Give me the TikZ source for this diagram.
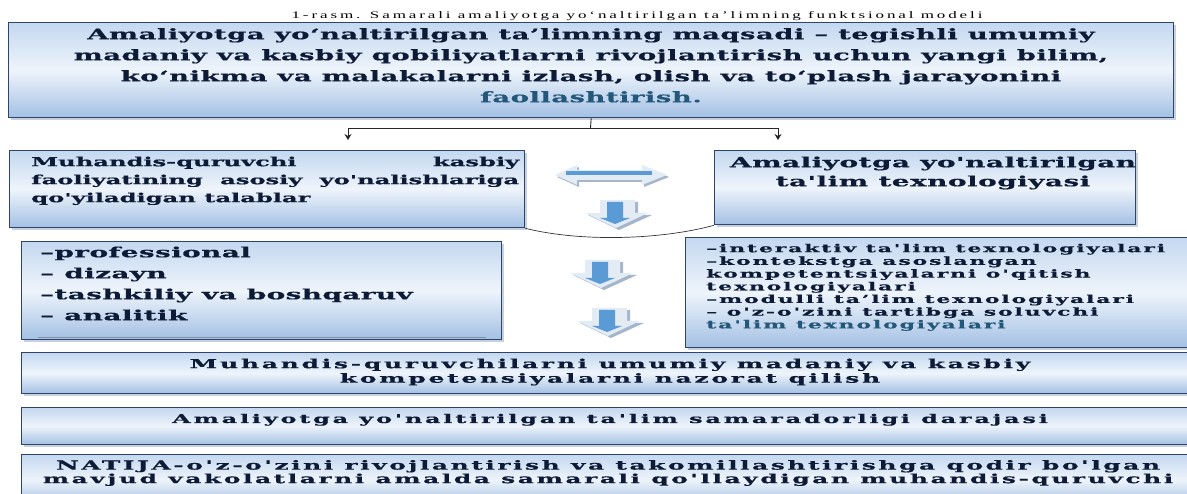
\documentclass[tikz,border=0pt]{standalone}
\usepackage{fontspec}
\setmainfont{DejaVu Serif}
\newfontfamily\capfont{Liberation Serif}[FakeStretch=1.7,LetterSpace=29,Ligatures=TeXOff]
\newcommand\wfont[4]{\fontspec{DejaVu Serif}[FakeStretch=#1,LetterSpace=#2,FakeBold=0.6,Ligatures=TeXOff]\bfseries\fontsize{#3}{#4}\selectfont}
\usetikzlibrary{arrows.meta,shadows}
\definecolor{panelline}{HTML}{2E4468}
\definecolor{paneltop}{HTML}{C4D8F0}
\definecolor{panelmid}{HTML}{EEF4FB}
\definecolor{panelbot}{HTML}{A3C0E4}
\definecolor{panelshade}{HTML}{8FA3BF}
\definecolor{ink}{HTML}{0D1B36}
\definecolor{inkteal}{HTML}{24587A}
\definecolor{arrowfill}{HTML}{5B9BD5}
\definecolor{arrowrim}{HTML}{E3EBF5}
\definecolor{arrowshade}{HTML}{A5B6CB}
\tikzset{
panel/.style={draw=panelline, line width=1.3pt, top color=paneltop, bottom color=panelbot, middle color=panelmid, drop shadow={shadow xshift=2.5pt, shadow yshift=-2.5pt, fill=panelshade}, anchor=north west, inner sep=0pt},
paneltext/.style={inner sep=0pt, text=ink},
tip/.style={-{Stealth[length=6pt,width=7pt]}, line width=0.9pt, draw=black!85}
}
\begin{document}
\begin{tikzpicture}[x=1pt,y=-1pt]
\useasboundingbox (0,0) rectangle (1187,494);
\fill[white] (0,0) rectangle (1187,494);
\node[text=black, inner sep=0pt, font=\capfont\fontsize{10}{12}\selectfont, anchor=base] (caption) at (637,19) {1-rasm. Samarali amaliyotga yo‘naltirilgan ta’limning funktsional modeli};
\node[panel, minimum width=1165pt, minimum height=95pt] (goal) at (8,22) {};
\node[paneltext, align=center, anchor=north, font=\wfont{1.9}{3}{14.5}{21}] (goaltext) at (591,28) {Amaliyotga yo‘naltirilgan ta’limning maqsadi – tegishli umumiy\\madaniy va kasbiy qobiliyatlarni rivojlantirish uchun yangi bilim,\\ko‘nikma va malakalarni izlash, olish va to‘plash jarayonini\\\textcolor{inkteal}{faollashtirish.}};
\coordinate (split) at (590.5,128);
\coordinate (leftend) at (348,140);
\coordinate (rightend) at (778,140);
\draw[line width=0.9pt, black!85] (goal.south) -- (split);
\draw[tip] (split) -| (leftend);
\draw[tip] (split) -| (rightend);
\node[panel, minimum width=515pt, minimum height=77pt] (demand) at (9,150) {};
\node[paneltext, align=justify, text width=488pt, anchor=north west, font=\wfont{1.95}{-1}{12.5}{18}] (demandtext) at (31,156.5) {Muhandis-quruvchi kasbiy\linebreak faoliyatining asosiy yo'nalishlariga\linebreak qo'yiladigan talablar};
\node[panel, minimum width=421pt, minimum height=74pt] (techno) at (714,150) {};
\node[paneltext, align=center, anchor=north, font=\wfont{2}{3}{14}{19}] (technotext) at (933,156.4) {Amaliyotga yo'naltirilgan\\ta'lim texnologiyasi};
\draw[line width=0.7pt, black!80] (demand.south east) .. controls (580,242) and (660,240) .. (techno.south west);
\node[panel, minimum width=480pt, minimum height=98pt] (branch) at (21,241) {};
\draw[panelline!60, line width=0.6pt] ([xshift=17pt,yshift=3pt]branch.south west) -- ([xshift=-16pt,yshift=3pt]branch.south east);
\node[paneltext, align=left, anchor=north west, font=\wfont{2}{2.3}{14}{21}] (branchtext) at (40,246.4) {–professional\\– dizayn\\–tashkiliy va boshqaruv\\– analitik};
\node[panel, minimum width=520pt, minimum height=110pt] (techlist) at (685,237) {};
\node[paneltext, align=left, anchor=north west, font=\wfont{2}{16.5}{11}{12.7}] (techlisttext) at (706,243.6) {–interaktiv ta'lim texnologiyalari\\–kontekstga asoslangan\\kompetentsiyalarni o'qitish\\texnologiyalari\\–modulli ta’lim texnologiyalari\\– o'z-o'zini tartibga soluvchi\\\textcolor{inkteal}{ta'lim texnologiyalari}};
\node[panel, minimum width=1190pt, minimum height=41pt] (control) at (21,352) {};
\node[paneltext, align=center, anchor=north, font=\wfont{2}{21.6}{12.5}{14.5}] (controltext) at (610,358.5) {Muhandis-quruvchilarni umumiy madaniy va kasbiy\\kompetensiyalarni nazorat qilish};
\node[panel, minimum width=1190pt, minimum height=37pt] (level) at (21,407) {};
\node[paneltext, anchor=base, font=\wfont{2}{23}{12}{15}] (leveltext) at (610,423) {Amaliyotga yo'naltirilgan ta'lim samaradorligi darajasi};
\node[panel, minimum width=1190pt, minimum height=50pt] (result) at (21,454) {};
\node[paneltext, align=center, anchor=north, font=\wfont{2}{20}{12.5}{13.5}] (resulttext) at (608,459.9) {NATIJA-o'z-o'zini rivojlantirish va takomillashtirishga qodir bo'lgan\\mavjud vakolatlarni amalda samarali qo'llaydigan muhandis-quruvchi};
\begin{scope}[shift={(611,175)}]
\fill[arrowshade] (-54,2) -- (-32,-8) -- (-32,-3) -- (33,-3) -- (33,-8) -- (58,2) -- (33,12) -- (33,7) -- (-32,7) -- (-32,12) -- cycle;
\fill[arrowrim] (-56,0) -- (-34,-10) -- (-34,-5) -- (31,-5) -- (31,-10) -- (56,0) -- (31,10) -- (31,5) -- (-34,5) -- (-34,10) -- cycle;
\fill[arrowfill] (-45,-3.5) rectangle (41,0);
\end{scope}
\foreach \ax/\ay in {617/200, 602/260, 609/308} {
\begin{scope}[shift={(\ax,\ay)}]
\fill[arrowshade] (-14,2) -- (21,2) -- (21,15) -- (35,15) -- (2,30) -- (-29,15) -- (-14,15) -- cycle;
\fill[arrowrim] (-17,0) -- (18,0) -- (18,13) -- (31,13) -- (-1,28) -- (-32,13) -- (-17,13) -- cycle;
\fill[arrowfill] (-10,2) -- (6,2) -- (6,18) -- (13,18) -- (-2,24) -- (-17,18) -- (-10,18) -- cycle;
\end{scope}
}
\end{tikzpicture}
\end{document}
